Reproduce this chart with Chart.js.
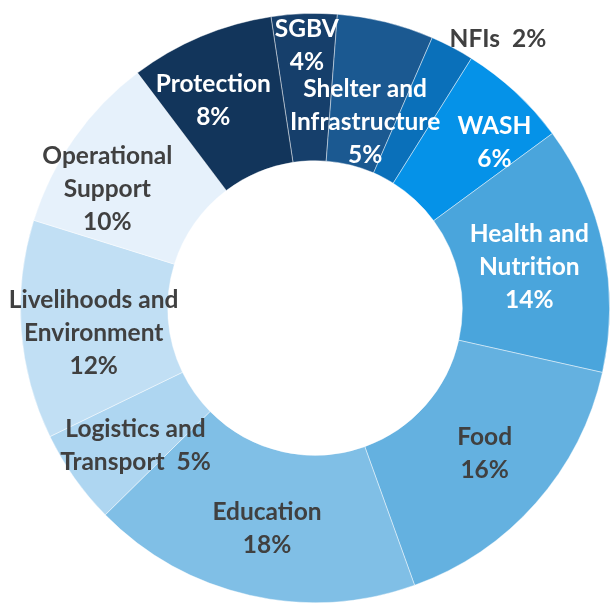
<!DOCTYPE html>
<html>
<head>
<meta charset="utf-8">
<script src="https://cdn.jsdelivr.net/npm/chart.js@4.4.1/dist/chart.umd.min.js"></script>
<style>
  html, body { margin: 0; padding: 0; background: #fff; }
  #wrap { width: 611px; height: 603px; position: relative; }
</style>
</head>
<body>
<div id="wrap"><canvas id="donut"></canvas></div>
<script>
// sectors, clockwise from the top
const sectors = ['SGBV', 'Shelter and Infrastructure', 'NFIs', 'WASH', 'Health and Nutrition', 'Food',
    'Education', 'Logistics and Transport', 'Livelihoods and Environment', 'Operational Support', 'Protection'];
// share of total (%)
const shares = [3.6, 5.3, 2.4, 6.0, 13.6, 16.0, 18.1, 5.2, 12.0, 9.9, 7.9];
// how each label is broken into lines ({p} = percent)
const labelLines = [
    ['SGBV', '{p}'],
    ['Shelter and', 'Infrastructure', '{p}'],
    ['NFIs  {p}'],
    ['WASH', '{p}'],
    ['Health and', 'Nutrition', '{p}'],
    ['Food', '{p}'],
    ['Education', '{p}'],
    ['Logistics and', 'Transport  {p}'],
    ['Livelihoods and', 'Environment', '{p}'],
    ['Operational', 'Support', '{p}'],
    ['Protection', '{p}']
];

const sliceColors = ['#163f6b', '#1b5991', '#0a70ba', '#0592e8', '#4aa5dc', '#64b1e0',
    '#80bfe6', '#aed6f1', '#c1dff4', '#e6f1fb', '#12355b'];
const textColors = ['#fff', '#fff', '#404040', '#fff', '#fff', '#404040',
    '#404040', '#404040', '#404040', '#404040', '#fff'];
// nudges from the slice centroid
const labelNudge = [[0, -42], [-3, 29], [80, -73], [29, -3], [-2, 4], [4, -1],
    [1, 5], [1, 10], [-1, 9], [-27, 8], [-16, -4]];

const sliceLabels = {
    id: 'sliceLabels',
    afterDatasetsDraw(chart) {
        const ctx = chart.ctx;
        const meta = chart.getDatasetMeta(0);
        ctx.save();
        ctx.font = 'bold 24.5px Lato';
        ctx.textAlign = 'center';
        ctx.textBaseline = 'middle';
        const lh = 33;
        meta.data.forEach((arc, i) => {
            const pos = arc.tooltipPosition();
            const x = pos.x + labelNudge[i][0];
            const y = pos.y + labelNudge[i][1];
            const pct = Math.round(shares[i]) + '%';
            const lines = labelLines[i].map(s => s.replace('{p}', pct));
            const top = y - (lines.length - 1) * lh / 2;
            ctx.fillStyle = textColors[i];
            lines.forEach((s, k) => ctx.fillText(s, x, top + k * lh));
        });
        ctx.restore();
    }
};

new Chart(document.getElementById('donut'), {
    type: 'doughnut',
    data: {
        labels: sectors,
        datasets: [{
            data: shares,
            backgroundColor: sliceColors,
            borderColor: 'rgba(255,255,255,0.55)',
            borderWidth: 0.8
        }]
    },
    options: {
        responsive: true,
        maintainAspectRatio: false,
        animation: false,
        rotation: -8.6,
        cutout: '50%',
        layout: { padding: { left: 20, right: 1, top: 13, bottom: 0 } },
        plugins: { legend: { display: false }, tooltip: { enabled: false } }
    },
    plugins: [sliceLabels]
});
</script>
</body>
</html>
